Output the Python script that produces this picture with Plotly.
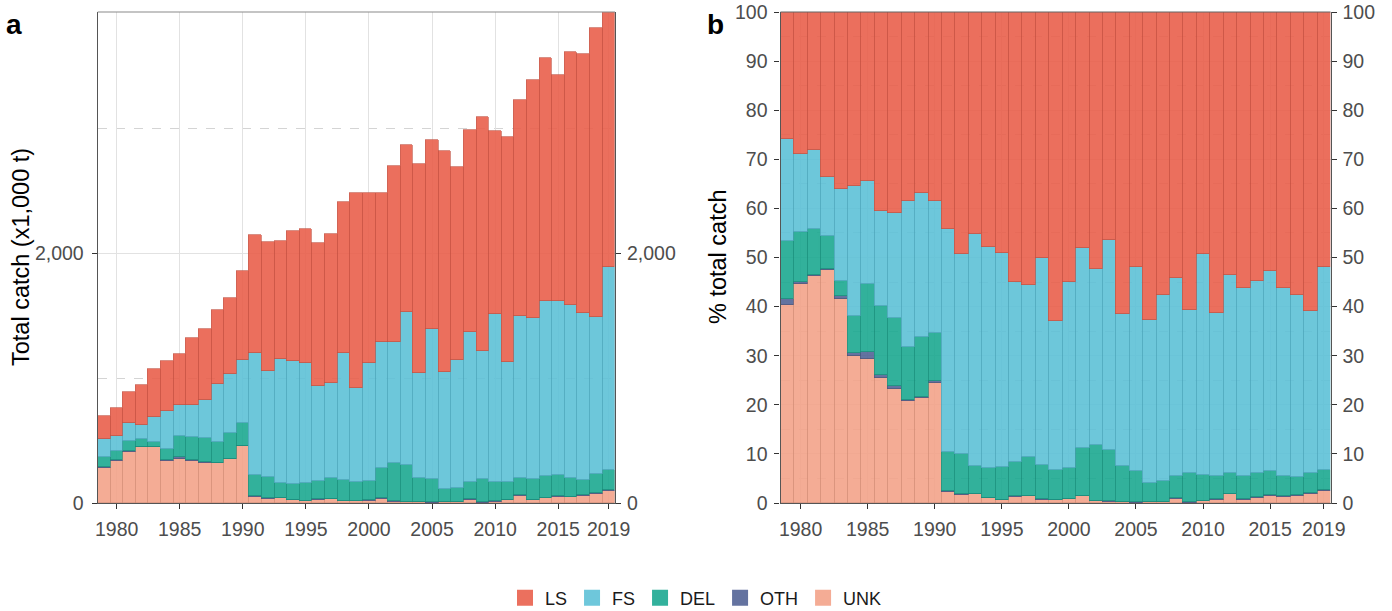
import plotly.graph_objects as go
import numpy as np

years = list(range(1979, 2020))

# Total catch (x1,000 t)
total_catch = [695, 758, 888, 944, 1073, 1136, 1194, 1322, 1392, 1545, 1644, 1858,
               2152, 2090, 2104, 2183, 2200, 2083, 2155, 2409, 2487, 2487, 2484,
               2698, 2867, 2714, 2906, 2824, 2695, 2989, 3096, 2984, 2936, 3230,
               3390, 3566, 3428, 3618, 3599, 3809, 3936]

# % of total catch by fishing mode
pct_LS = [25.8, 28.9, 28.2, 33.6, 36.0, 35.4, 34.5, 40.5, 40.9, 38.5, 36.9, 38.5, 44.1, 49.2,
          45.3, 47.9, 49.1, 54.9, 55.5, 50.1, 62.9, 54.9, 48.0, 52.3, 46.5, 61.6, 51.9, 62.8,
          57.6, 54.1, 60.7, 49.3, 61.4, 53.6, 56.2, 54.7, 52.8, 56.2, 57.7, 60.8, 51.9]
pct_FS = [20.9, 16.0, 15.9, 12.1, 18.7, 26.5, 20.8, 19.4, 21.4, 29.8, 29.2, 26.9, 45.6, 40.8,
          47.2, 45.0, 43.6, 36.7, 35.2, 42.2, 30.4, 38.0, 40.7, 35.8, 42.8, 30.9, 41.6, 33.1,
          38.0, 40.3, 33.2, 45.0, 33.0, 40.3, 38.2, 39.2, 40.7, 38.2, 37.1, 33.1, 41.4]
pct_DEL = [11.8, 10.1, 9.4, 6.7, 3.2, 7.5, 13.9, 14.1, 13.9, 10.7, 12.3, 9.8, 7.8, 8.2,
           5.6, 6.0, 6.6, 7.0, 7.8, 6.9, 6.0, 6.2, 9.8, 11.4, 10.3, 7.2, 6.2, 3.8,
           4.1, 4.6, 5.8, 5.2, 4.8, 4.2, 4.8, 4.9, 4.9, 4.2, 3.5, 4.0, 4.1]
pct_OTH = [1.1, 0.3, 0.2, 0.2, 0.6, 0.7, 1.5, 0.5, 0.6, 0.3, 0.2, 0.3, 0.2, 0.1,
           0.1, 0.1, 0.1, 0.1, 0.1, 0.1, 0.1, 0.1, 0.1, 0.1, 0.1, 0.1, 0.2, 0.1,
           0.1, 0.1, 0.2, 0.1, 0.1, 0.1, 0.1, 0.1, 0.1, 0.1, 0.2, 0.2, 0.2]
pct_UNK = [40.4, 44.7, 46.3, 47.4, 41.5, 29.9, 29.3, 25.5, 23.2, 20.7, 21.4, 24.5, 2.3, 1.7,
           1.8, 1.0, 0.6, 1.3, 1.4, 0.7, 0.6, 0.8, 1.4, 0.4, 0.3, 0.2, 0.1, 0.2,
           0.2, 0.9, 0.1, 0.4, 0.7, 1.8, 0.7, 1.1, 1.5, 1.3, 1.5, 1.9, 2.4]

categories = ["LS", "FS", "DEL", "OTH", "UNK"]
shares = {"LS": pct_LS, "FS": pct_FS, "DEL": pct_DEL, "OTH": pct_OTH, "UNK": pct_UNK}
colors = {"LS": "#E9604C", "FS": "#5EC1D7", "DEL": "#1CA991", "OTH": "#536496", "UNK": "#F3A38A"}
line_colors = {"LS": "#C24E3E", "FS": "#4AA3B8", "DEL": "#178C78", "OTH": "#434F78", "UNK": "#D08A74"}

x_ticks = [1980, 1985, 1990, 1995, 2000, 2005, 2010, 2015, 2019]

FONT = "Liberation Sans, Arial, sans-serif"
TICK_COLOR = "#4D4D4D"

fig = go.Figure()

tot = np.array(total_catch, dtype=float)
stack_order = ["UNK", "OTH", "DEL", "FS", "LS"]
for cat in stack_order:
    pct = np.array(shares[cat], dtype=float)
    common = dict(marker=dict(color=colors[cat], opacity=0.9,
                              line=dict(color=line_colors[cat], width=0.7)),
                  width=1.0, showlegend=False, name=cat, hoverinfo="x+y+name")
    fig.add_trace(go.Bar(x=years, y=tot * pct / 100.0, xaxis="x", yaxis="y", **common))
    fig.add_trace(go.Bar(x=years, y=pct, xaxis="x2", yaxis="y2", **common))

# legend entries
for cat in categories:
    fig.add_trace(go.Scatter(x=[None], y=[None], mode="markers", name=cat,
                             marker=dict(symbol="square", size=17, color=colors[cat], opacity=0.9,
                                         line=dict(color="rgba(0,0,0,0)", width=0)),
                             xaxis="x", yaxis="y", showlegend=True, hoverinfo="skip"))

# empty helper traces so the secondary (right-hand) axes are drawn
fig.add_trace(go.Scatter(x=[None], y=[None], mode="markers", xaxis="x", yaxis="y3",
                         showlegend=False, hoverinfo="skip"))
fig.add_trace(go.Scatter(x=[None], y=[None], mode="markers", xaxis="x2", yaxis="y4",
                         showlegend=False, hoverinfo="skip"))

y_dom = [1 - 503 / 611, 1 - 12 / 611]
xa_dom = [97.7 / 1392, 615 / 1392]
xb_dom = [780.5 / 1392, 1330.5 / 1392]

tickfont = dict(family=FONT, size=19.5, color=TICK_COLOR)
grid_major = "#E2E2E2"

xaxis_common = dict(range=[1978.5, 2019.5], tickmode="array", tickvals=x_ticks,
                    ticks="outside", ticklen=5, tickwidth=1.2, tickcolor="#333333",
                    showline=True, linecolor="#555555", linewidth=1.2,
                    showgrid=True, gridcolor=grid_major, gridwidth=1.2,
                    tickfont=tickfont, zeroline=False, automargin=False,
                    ticklabelstandoff=3, fixedrange=True)

ya_range = [0, max(total_catch)]
yaxis_a = dict(range=ya_range, tickmode="array", tickvals=[0, 2000], tickformat=",d",
               ticks="outside", ticklen=5, tickwidth=1.2, tickcolor="#333333",
               showline=True, linecolor="#555555", linewidth=1.2,
               showgrid=True, gridcolor=grid_major, gridwidth=1.2,
               minor=dict(dtick=1000, tick0=0, showgrid=True, gridcolor="#D4D4D4",
                          griddash="dash", gridwidth=1, ticks=""),
               tickfont=tickfont, zeroline=False, automargin=False,
               ticklabelstandoff=4, domain=y_dom, anchor="x")
yaxis_b = dict(range=[0, 100], tickmode="linear", tick0=0, dtick=10,
               ticks="outside", ticklen=5, tickwidth=1.2, tickcolor="#333333",
               showline=True, linecolor="#555555", linewidth=1.2,
               showgrid=True, gridcolor=grid_major, gridwidth=1.2,
               minor=dict(dtick=5, tick0=0, showgrid=True, gridcolor="#D4D4D4",
                          griddash="dash", gridwidth=1, ticks=""),
               tickfont=tickfont, zeroline=False, automargin=False,
               ticklabelstandoff=3, domain=y_dom, anchor="x2")

right_common = dict(side="right", ticks="outside", ticklen=5, tickwidth=1.2,
                    tickcolor="#333333", showline=True, linecolor="#555555", linewidth=1.2,
                    showgrid=False, zeroline=False, tickfont=tickfont,
                    ticklabelstandoff=2, automargin=False)

fig.update_layout(
    width=1392, height=611,
    margin=dict(l=0, r=0, t=0, b=0, autoexpand=False),
    paper_bgcolor="white", plot_bgcolor="white",
    barmode="stack", bargap=0,
    font=dict(family=FONT, color="#1A1A1A"),
    xaxis=dict(domain=xa_dom, anchor="y", **xaxis_common),
    xaxis2=dict(domain=xb_dom, anchor="y2", **xaxis_common),
    yaxis=yaxis_a,
    yaxis2=yaxis_b,
    yaxis3=dict(overlaying="y", anchor="x", range=ya_range,
                tickmode="array", tickvals=[0, 2000], tickformat=",d", **right_common),
    yaxis4=dict(overlaying="y2", anchor="x2", range=[0, 100],
                tickmode="linear", tick0=0, dtick=10, **right_common),
    legend=dict(orientation="h", x=0.5, xanchor="center", y=1 - 598 / 611, yanchor="middle",
                traceorder="normal",
                font=dict(family=FONT, size=18, color="#1A1A1A"),
                itemclick=False, itemdoubleclick=False, bgcolor="rgba(0,0,0,0)"),
    showlegend=True,
    shapes=[
        dict(type="line", xref="x domain", yref="y domain", x0=0, x1=1, y0=1, y1=1,
             line=dict(color="#8A8A8A", width=1.2), layer="above"),
        dict(type="line", xref="x2 domain", yref="y2 domain", x0=0, x1=1, y0=1, y1=1,
             line=dict(color="#666666", width=1.2), layer="above"),
    ],
    annotations=[
        dict(text="<b>a</b>", x=14 / 1392, y=1 - 25 / 611, xref="paper", yref="paper",
             showarrow=False, font=dict(family=FONT, size=28, color="#000000"),
             xanchor="center", yanchor="middle"),
        dict(text="<b>b</b>", x=715 / 1392, y=1 - 25 / 611, xref="paper", yref="paper",
             showarrow=False, font=dict(family=FONT, size=28, color="#000000"),
             xanchor="center", yanchor="middle"),
        dict(text="Total catch (x1,000 t)", x=21 / 1392, y=1 - 257 / 611, xref="paper",
             yref="paper", showarrow=False, textangle=-90,
             font=dict(family=FONT, size=23.5, color="#000000"),
             xanchor="center", yanchor="middle"),
        dict(text="% total catch", x=718 / 1392, y=1 - 257 / 611, xref="paper",
             yref="paper", showarrow=False, textangle=-90,
             font=dict(family=FONT, size=23.5, color="#000000"),
             xanchor="center", yanchor="middle"),
    ],
)

fig.write_html("out.html")
